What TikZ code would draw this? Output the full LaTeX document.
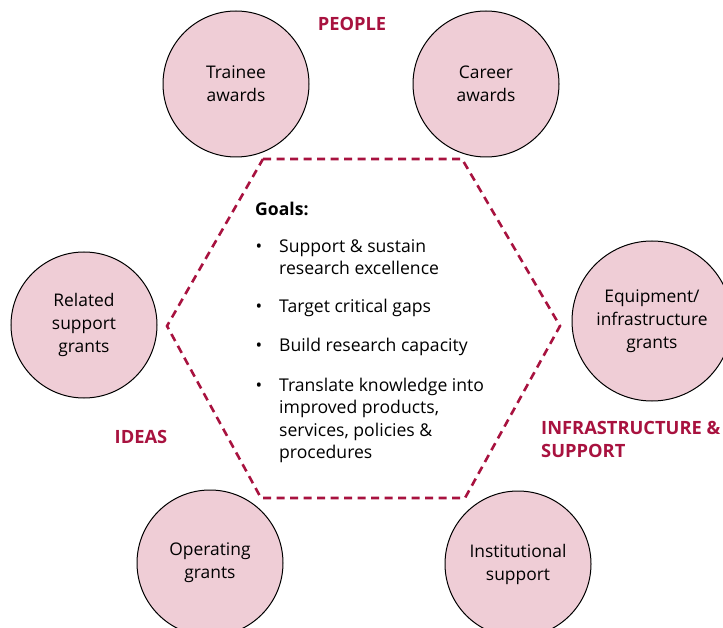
\documentclass[tikz,border=0pt]{standalone}
\usepackage{fontspec}
\setmainfont{Open Sans}
\definecolor{bubblepink}{HTML}{EFCDD6}
\definecolor{crimson}{HTML}{A8123F}
\begin{document}
\begin{tikzpicture}[x=1pt,y=-1pt,
  bubble/.style={circle, draw=black, line width=1pt, fill=bubblepink, minimum size=146pt, inner sep=0pt, align=center, font=\fontsize{17.4}{23}\selectfont},
  hexline/.style={draw=crimson, line width=2.6pt, dash pattern=on 8pt off 5.5pt},
  category/.style={text=crimson, inner sep=0pt, font=\bfseries\fontsize{18.3}{23}\selectfont},
  goaltext/.style={anchor=base west, inner sep=0pt, font=\fontsize{17.6}{22}\selectfont},
  goalbullet/.style={anchor=base, inner sep=0pt, font=\fontsize{17.6}{22}\selectfont}]
\useasboundingbox (0,0) rectangle (723,628);
\clip (0,0) rectangle (723,628);
% hexagon
\coordinate (h1) at (263,159);
\coordinate (h2) at (462,159);
\coordinate (h3) at (560,326);
\coordinate (h4) at (465,498);
\coordinate (h5) at (261,498);
\coordinate (h6) at (167,326);
\draw[hexline] (h1) -- (h2) -- (h3) -- (h4) -- (h5) -- (h6) -- cycle;
% circles
\node[bubble] (trainee) at (236,84) {Trainee\\awards};
\node[bubble] (career) at (486,84) {Career\\awards};
\node[bubble] (related) at (84,325) {Related\\support\\grants};
\node[bubble, minimum size=160pt] (equip) at (652,321) {Equipment/\\infrastructure\\grants};
\node[bubble] (operating) at (210,563) {Operating\\grants};
\node[bubble] (institutional) at (518,564) {Institutional\\support};
% categories
\node[category] (people) at (352,24) {PEOPLE};
\node[category] (ideas) at (141,437) {IDEAS};
\node[category, anchor=west] (infra1) at (541,428) {INFRASTRUCTURE \&};
\node[category, anchor=west] (infra2) at (541,451) {SUPPORT};
% goals
\node[goaltext, font=\bfseries\fontsize{17.6}{22}\selectfont] (goals) at (255,216) {Goals:};
\node[goalbullet] (b1) at (259,253) {•};
\node[goaltext] (g1a) at (279,253) {Support \& sustain};
\node[goaltext] (g1b) at (279,275) {research excellence};
\node[goalbullet] (b2) at (259,313) {•};
\node[goaltext] (g2) at (279,313) {Target critical gaps};
\node[goalbullet] (b3) at (259,352) {•};
\node[goaltext] (g3) at (279,352) {Build research capacity};
\node[goalbullet] (b4) at (259,391) {•};
\node[goaltext] (g4a) at (279,391) {Translate knowledge into};
\node[goaltext] (g4b) at (279,413) {improved products,};
\node[goaltext] (g4c) at (279,436) {services, policies \&};
\node[goaltext] (g4d) at (279,458) {procedures};
\end{tikzpicture}
\end{document}
